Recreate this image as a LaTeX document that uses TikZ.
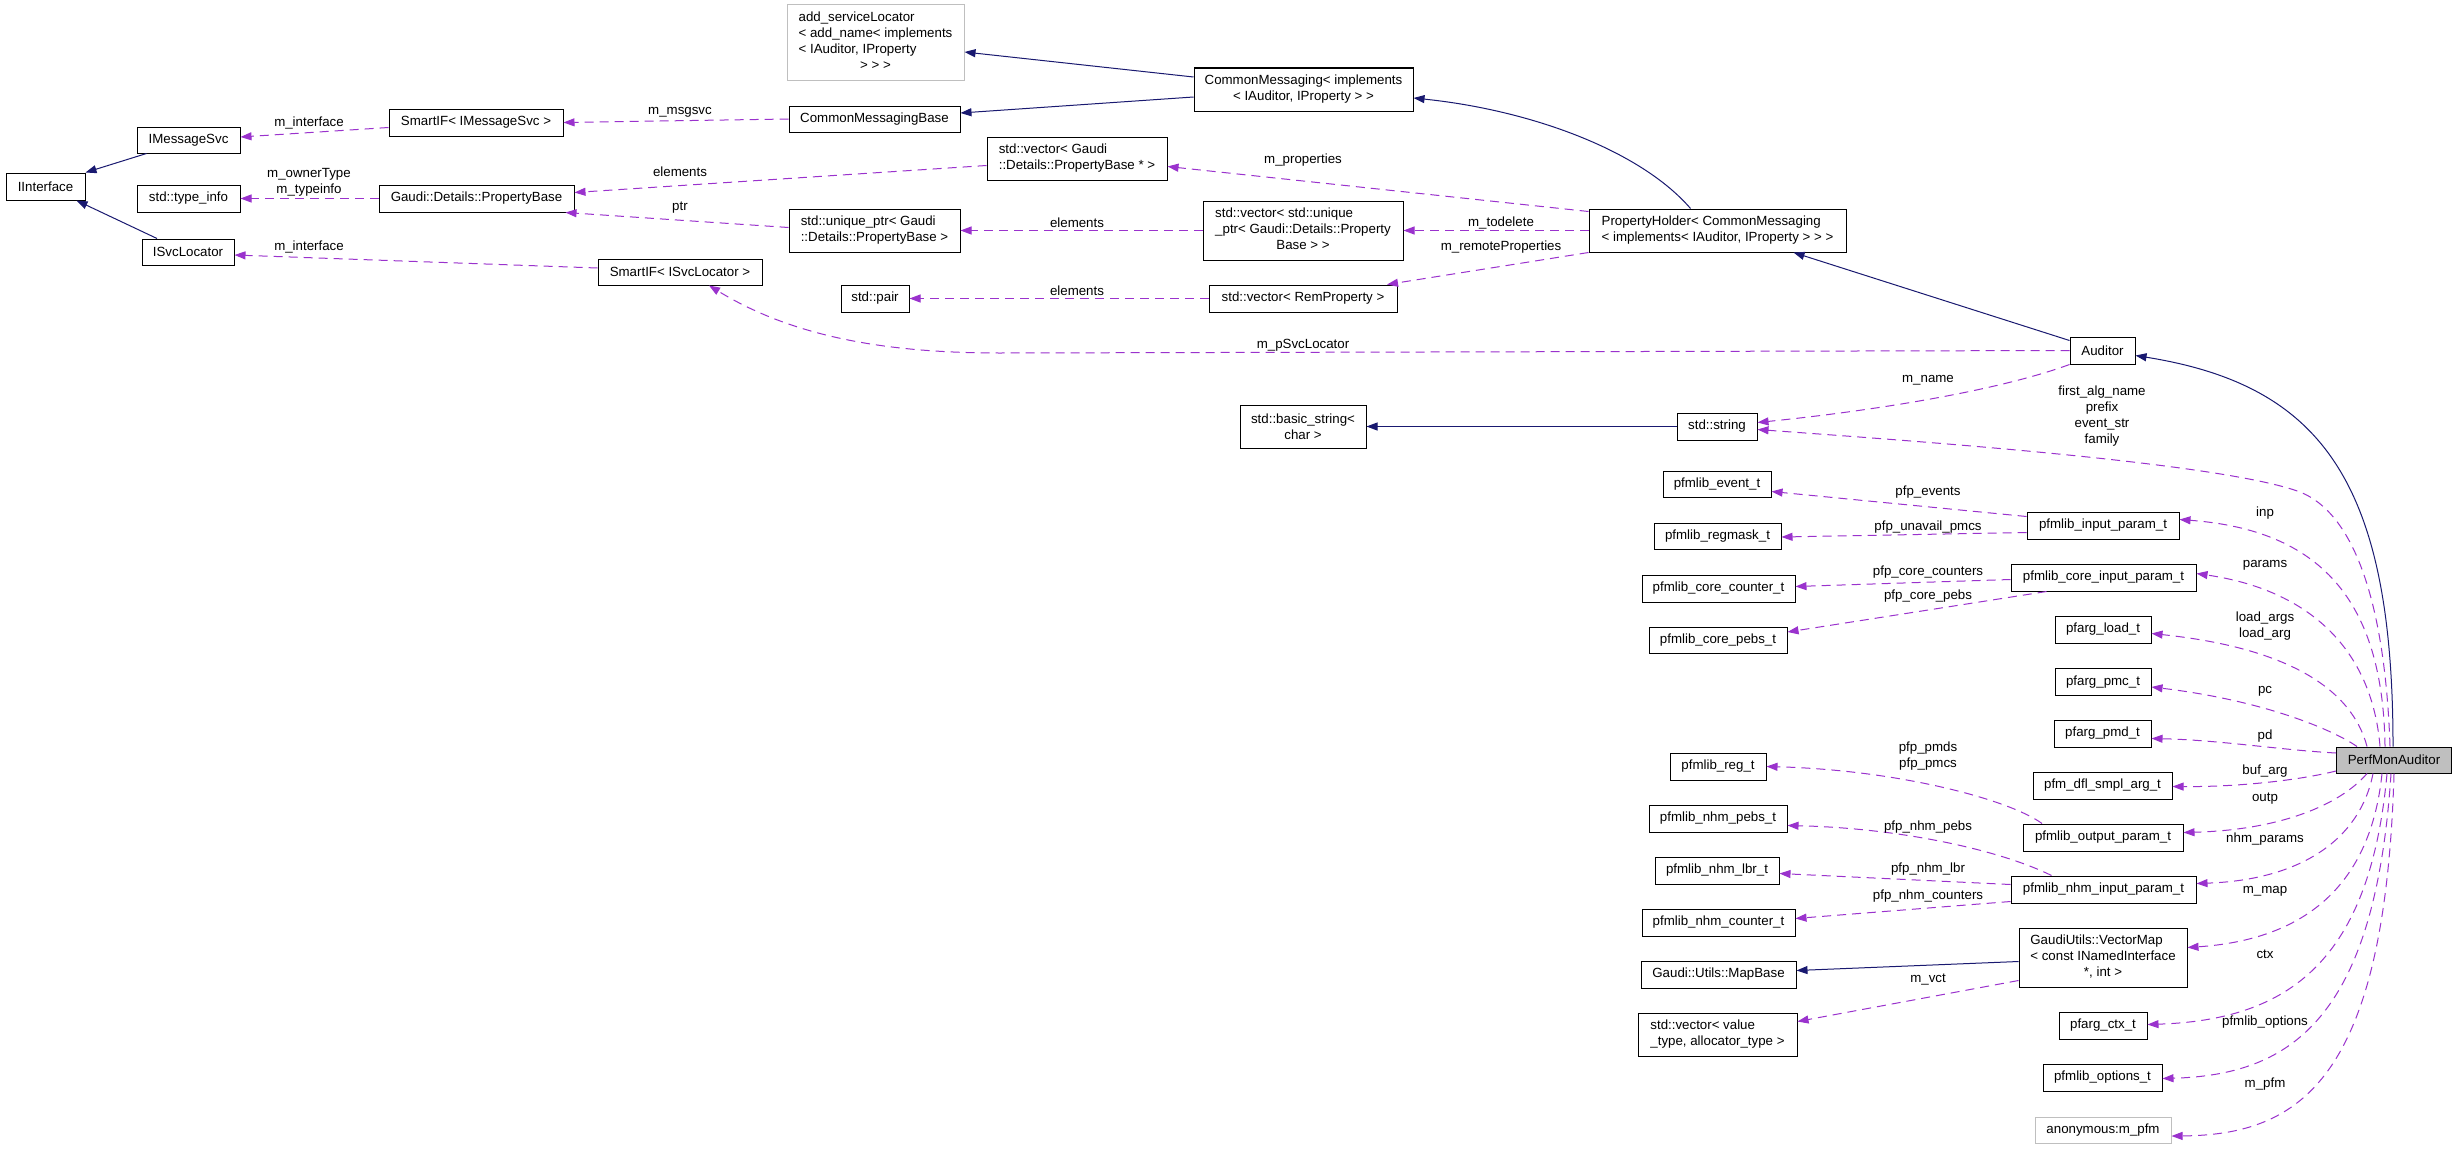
\documentclass[tikz,border=0pt]{standalone}
\usepackage{fontspec}
\setmainfont{Liberation Sans}
\usetikzlibrary{arrows.meta}
\definecolor{inhblue}{HTML}{191970}
\definecolor{relpurple}{HTML}{9A32CD}
\definecolor{boxgray}{HTML}{BFBFBF}
\newcommand\dxtab[1]{\begin{tabular}{@{}l@{}}#1\end{tabular}}
\newcommand\dxc[1]{\multicolumn{1}{@{}c@{}}{#1}}
\begin{document}
\begin{tikzpicture}[x=1pt,y=-1pt,
  font=\fontsize{13.3}{16}\selectfont,
  cls/.style={draw=black, line width=1pt, fill=white, inner sep=0pt, minimum height=27pt},
  graycls/.style={cls, draw=boxgray},
  lbl/.style={inner sep=0pt, align=center},
  inh/.style={draw=inhblue, line width=1pt, -{Triangle[length=11pt,width=8pt]}},
  rel/.style={draw=relpurple, line width=1pt, dash pattern=on 9pt off 6pt, -{Triangle[length=11pt,width=8pt]}},
]
\fill[white] (0,0) rectangle (2456,1148);
\useasboundingbox (0,0) rectangle (2456,1148);

% ---------- nodes ----------
\node[cls, minimum width=79pt] (iint) at (45.5,186.5) {IInterface};
\node[cls, minimum width=103pt, minimum height=26pt] (imsg) at (188.5,140) {IMessageSvc};
\node[cls, minimum width=103pt] (tinfo) at (188.5,198.5) {std::type\_info};
\node[cls, minimum width=92pt, minimum height=26pt] (isl) at (188,252) {ISvcLocator};
\node[cls, minimum width=174pt] (smsg) at (476,122.5) {SmartIF< IMessageSvc >};
\node[cls, minimum width=195pt] (pb) at (476.5,198.5) {Gaudi::Details::PropertyBase};
\node[cls, minimum width=164pt, minimum height=26pt] (ssl) at (680,272) {SmartIF< ISvcLocator >};
\node[graycls, minimum width=177pt, minimum height=75pt] (asl) at (875.5,42.5) {\dxtab{add\_serviceLocator\\< add\_name< implements\\< IAuditor, IProperty\\\dxc{> > >}}};
\node[cls, minimum width=171pt, minimum height=26pt] (cmb) at (874.5,119) {CommonMessagingBase};
\node[cls, minimum width=219pt, minimum height=43pt, align=center] (cm) at (1303.5,89.5) {CommonMessaging< implements\\< IAuditor, IProperty > >};
\node[cls, minimum width=180pt, minimum height=43pt] (vpb) at (1077,158.5) {\dxtab{std::vector< Gaudi\\::Details::PropertyBase * >}};
\node[cls, minimum width=171pt, minimum height=43pt] (uptr) at (874.5,230.5) {\dxtab{std::unique\_ptr< Gaudi\\::Details::PropertyBase >}};
\node[cls, minimum width=200pt, minimum height=59pt] (vuptr) at (1303,230.5) {\dxtab{std::vector< std::unique\\\_ptr< Gaudi::Details::Property\\\dxc{Base > >}}};
\node[cls, minimum width=257pt, minimum height=43pt] (ph) at (1717.5,230.5) {\dxtab{PropertyHolder< CommonMessaging\\< implements< IAuditor, IProperty > > >}};
\node[cls, minimum width=68pt] (pair) at (875,298.5) {std::pair};
\node[cls, minimum width=188pt] (vrem) at (1303,298.5) {std::vector< RemProperty >};
\node[cls, minimum width=126pt, minimum height=43pt, align=center] (bstr) at (1303,426.5) {std::basic\_string<\\char >};
\node[cls, minimum width=80pt] (str) at (1717,426.5) {std::string};
\node[cls, minimum width=65pt] (aud) at (2102.5,350.5) {Auditor};

\node[cls, minimum width=108pt, minimum height=26pt] (pev) at (1717,484.5) {pfmlib\_event\_t};
\node[cls, minimum width=127pt, minimum height=26pt] (preg) at (1717.5,536) {pfmlib\_regmask\_t};
\node[cls, minimum width=153pt] (pcc) at (1718.5,588.5) {pfmlib\_core\_counter\_t};
\node[cls, minimum width=138pt, minimum height=26pt] (pcp) at (1718,640) {pfmlib\_core\_pebs\_t};
\node[cls, minimum width=152pt] (pin) at (2103,525.5) {pfmlib\_input\_param\_t};
\node[cls, minimum width=185pt] (pcin) at (2103.5,577.5) {pfmlib\_core\_input\_param\_t};
\node[cls, minimum width=96pt] (pld) at (2103,629.5) {pfarg\_load\_t};
\node[cls, minimum width=96pt] (ppmc) at (2103,682) {pfarg\_pmc\_t};
\node[cls, minimum width=97pt] (ppmd) at (2102.5,733.5) {pfarg\_pmd\_t};
\node[cls, minimum width=96pt] (pr) at (1718,766.5) {pfmlib\_reg\_t};
\node[cls, minimum width=139pt] (pdfl) at (2102.5,785.5) {pfm\_dfl\_smpl\_arg\_t};
\node[cls, minimum width=138pt] (pnp) at (1718,818.5) {pfmlib\_nhm\_pebs\_t};
\node[cls, minimum width=160pt] (pout) at (2103,837.5) {pfmlib\_output\_param\_t};
\node[cls, minimum width=124pt] (pnl) at (1717,870.5) {pfmlib\_nhm\_lbr\_t};
\node[cls, minimum width=185pt] (pnin) at (2103.5,889.5) {pfmlib\_nhm\_input\_param\_t};
\node[cls, minimum width=153pt] (pnc) at (1718.5,922.5) {pfmlib\_nhm\_counter\_t};
\node[cls, minimum width=168pt, minimum height=59pt] (vm) at (2103,957.5) {\dxtab{GaudiUtils::VectorMap\\< const INamedInterface\\\dxc{*, int >}}};
\node[cls, minimum width=155pt] (mb) at (1718.5,974.5) {Gaudi::Utils::MapBase};
\node[cls, minimum width=159pt, minimum height=43pt] (svec) at (1717.5,1034.5) {\dxtab{std::vector< value\\\_type, allocator\_type >}};
\node[cls, minimum width=88pt] (pctx) at (2103,1025.5) {pfarg\_ctx\_t};
\node[cls, minimum width=119pt] (popt) at (2102.5,1077.5) {pfmlib\_options\_t};
\node[graycls, minimum width=136pt, minimum height=26pt] (anon) at (2103,1130) {anonymous:m\_pfm};
\node[cls, fill=boxgray, minimum width=115pt, minimum height=26pt] (pma) at (2394,760) {PerfMonAuditor};

% ---------- inheritance edges ----------
\draw[inh] ([xshift=-42pt]imsg.south) -- (iint.north east);
\draw[inh] ([xshift=-31pt]isl.north) -- ([xshift=31pt]iint.south);
\draw[inh] ([yshift=12.5pt]cm.west) -- ([yshift=-9.5pt]asl.east);
\draw[inh] ([yshift=-7.5pt]cm.west) -- ([yshift=6pt]cmb.east);
\draw[inh] ([xshift=-27pt]ph.north) .. controls (1640,150) and (1530,110) .. ([yshift=-8.5pt]cm.east);
\draw[inh] ([yshift=-4pt]aud.north west) -- ([xshift=76pt]ph.south);
\draw[inh] (str.west) -- (bstr.east);
\draw[inh] ([xshift=-1pt]pma.north) .. controls (2393,480) and (2320,385) .. ([yshift=-5pt]aud.east);
\draw[inh] ([yshift=-4pt]vm.west) -- ([yshift=4pt]mb.east);

% ---------- usage edges ----------
\draw[rel] ([yshift=-5pt]smsg.west) -- ([yshift=3pt]imsg.east);
\draw[rel] (cmb.west) -- (smsg.east);
\draw[rel] (pb.west) -- (tinfo.east);
\draw[rel] ([yshift=-7pt]vpb.west) -- ([yshift=6pt]pb.east);
\draw[rel] ([yshift=3pt]uptr.west) -- ([xshift=89pt]pb.south);
\draw[rel] ([yshift=4pt]ssl.west) -- ([yshift=-3pt]isl.east);
\draw[rel] ([yshift=-3pt]ph.north west) -- ([yshift=-8pt]vpb.east);
\draw[rel] (vuptr.west) -- (uptr.east);
\draw[rel] (ph.west) -- (vuptr.east);
\draw[rel] (ph.south west) -- ([xshift=84pt]vrem.north);
\draw[rel] (vrem.west) -- (pair.east);
\draw[rel] (aud.west) -- (1000,353) .. controls (880,353) and (790,335) .. ([xshift=29pt]ssl.south);
\draw[rel] (aud.south west) .. controls (2000,390) and (1880,410) .. ([yshift=4pt]str.east);
\draw[rel] ([xshift=-4pt]pma.north) .. controls (2385,600) and (2353,513) .. (2300,492) .. controls (2220,462) and (1900,440) .. ([yshift=-3pt]str.east);

\draw[rel] ([yshift=9pt]pin.west) -- ([yshift=-7pt]pev.east);
\draw[rel] ([yshift=-7pt]pin.west) -- ([yshift=-1pt]preg.east);
\draw[rel] ([yshift=-2pt]pcin.west) -- ([yshift=2pt]pcc.east);
\draw[rel] ([xshift=-57pt]pcin.south) -- ([yshift=8pt]pcp.east);
\draw[rel] ([xshift=-61pt]pout.north) .. controls (2010,800) and (1900,770) .. (pr.east);
\draw[rel] ([xshift=-52pt]pnin.north) .. controls (2000,850) and (1900,828) .. ([yshift=-7pt]pnp.east);
\draw[rel] ([yshift=5pt]pnin.west) -- ([yshift=-3pt]pnl.east);
\draw[rel] ([yshift=-12pt]pnin.west) -- ([yshift=4pt]pnc.east);
\draw[rel] ([yshift=-23pt]vm.west) -- ([yshift=13pt]svec.east);

\draw[rel] ([xshift=-9pt]pma.north) .. controls (2383,600) and (2320,530) .. ([yshift=6pt]pin.east);
\draw[rel] ([xshift=-14pt]pma.north) .. controls (2372,650) and (2310,590) .. ([yshift=4pt]pcin.east);
\draw[rel] ([xshift=-27pt]pma.north) .. controls (2352,690) and (2290,648) .. ([yshift=-4pt]pld.east);
\draw[rel] ([xshift=-37pt]pma.north) .. controls (2330,728) and (2260,700) .. ([yshift=-5pt]ppmc.east);
\draw[rel] ([yshift=7pt]pma.west) .. controls (2280,750) and (2220,740) .. ([yshift=-5pt]ppmd.east);
\draw[rel] ([yshift=-11pt]pma.west) .. controls (2300,780) and (2240,787) .. ([yshift=-1pt]pdfl.east);
\draw[rel] ([xshift=-27pt]pma.south) .. controls (2340,805) and (2280,830) .. ([yshift=5pt]pout.east);
\draw[rel] ([xshift=-21pt]pma.south) .. controls (2360,840) and (2300,880) .. ([yshift=6pt]pnin.east);
\draw[rel] ([xshift=-12pt]pma.south) .. controls (2370,890) and (2300,940) .. ([yshift=10pt]vm.east);
\draw[rel] ([xshift=-7pt]pma.south) .. controls (2370,960) and (2290,1020) .. ([yshift=1pt]pctx.east);
\draw[rel] ([xshift=-3pt]pma.south) .. controls (2375,1020) and (2290,1075) .. ([yshift=-1pt]popt.east);
\draw[rel] (pma.south) .. controls (2385,1080) and (2300,1135) .. ([yshift=-6pt]anon.east);

% ---------- labels ----------
\node[lbl] (l1) at (309,123) {m\_interface};
\node[lbl] (l2) at (680,112) {m\_msgsvc};
\node[lbl] (l3) at (309,182.5) {m\_ownerType\\m\_typeinfo};
\node[lbl] (l4) at (680,172) {elements};
\node[lbl] (l5) at (680,208) {ptr};
\node[lbl] (l6) at (309,247) {m\_interface};
\node[lbl] (l7) at (1303,160) {m\_properties};
\node[lbl] (l8) at (1077,223) {elements};
\node[lbl] (l9) at (1501,223) {m\_todelete};
\node[lbl] (l10) at (1501,247) {m\_remoteProperties};
\node[lbl] (l11) at (1077,291) {elements};
\node[lbl] (l12) at (1303,345) {m\_pSvcLocator};
\node[lbl] (l13) at (1928,380) {m\_name};
\node[lbl] (l14) at (2102,416) {first\_alg\_name\\prefix\\event\_str\\family};
\node[lbl] (l15) at (1928,492) {pfp\_events};
\node[lbl] (l16) at (1928,527) {pfp\_unavail\_pmcs};
\node[lbl] (l17) at (1928,572) {pfp\_core\_counters};
\node[lbl] (l18) at (1928,596) {pfp\_core\_pebs};
\node[lbl] (l19) at (2265,513) {inp};
\node[lbl] (l20) at (2265,565) {params};
\node[lbl] (l21) at (2265,626) {load\_args\\load\_arg};
\node[lbl] (l22) at (2265,691) {pc};
\node[lbl] (l23) at (2265,736) {pd};
\node[lbl] (l24) at (2265,771) {buf\_arg};
\node[lbl] (l25) at (2265,799) {outp};
\node[lbl] (l26) at (2265,839) {nhm\_params};
\node[lbl] (l27) at (2265,891) {m\_map};
\node[lbl] (l28) at (2265,954) {ctx};
\node[lbl] (l29) at (2265,1022) {pfmlib\_options};
\node[lbl] (l30) at (2265,1084) {m\_pfm};
\node[lbl] (l31) at (1928,756) {pfp\_pmds\\pfp\_pmcs};
\node[lbl] (l32) at (1928,827) {pfp\_nhm\_pebs};
\node[lbl] (l33) at (1928,869) {pfp\_nhm\_lbr};
\node[lbl] (l34) at (1928,896) {pfp\_nhm\_counters};
\node[lbl] (l35) at (1928,980) {m\_vct};
\end{tikzpicture}
\end{document}
